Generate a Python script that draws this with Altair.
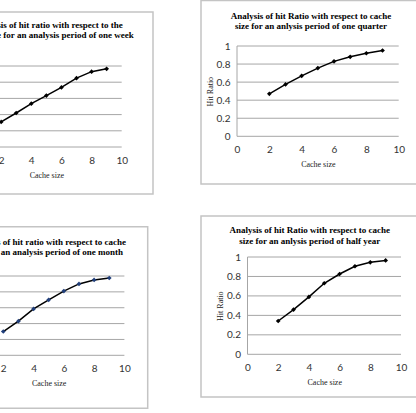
import altair as alt
import pandas as pd

# ---------------- data ----------------
cache_size = [2, 3, 4, 5, 6, 7, 8, 9]
hit_week = [0.31, 0.42, 0.535, 0.635, 0.735, 0.85, 0.93, 0.965]
hit_quarter = [0.47, 0.575, 0.67, 0.755, 0.83, 0.88, 0.92, 0.95]
hit_month = [0.30, 0.43, 0.585, 0.70, 0.81, 0.90, 0.95, 0.975]
hit_half_year = [0.342, 0.46, 0.59, 0.73, 0.825, 0.905, 0.945, 0.965]
x_ticks = [0, 2, 4, 6, 8, 10]
y_ticks = [0, 0.2, 0.4, 0.6, 0.8, 1]

title_week = ["Analysis of hit ratio with respect to the",
              "cache size for an analysis period of one week"]
title_quarter = ["Analysis of hit Ratio with respect to cache",
                 "size for an anlysis period of one quarter"]
title_month = ["Analysis of hit ratio with respect to cache",
               "size for an analysis period of one month"]
title_half_year = ["Analysis of hit Ratio with respect to cache",
                   "size for an anlysis period of half year"]
x_title = "Cache size"
y_title = "Hit Ratio"

# ---------------- layout (pixels) ----------------
W, H = 416, 413
LABEL_FONT = "Lato"
SERIF = "Liberation Serif"

layouts = [
    dict(values=hit_week, title=title_week, marker="black",
         left=-29, right=121.7, top=66, bottom=147,
         frame=(-5, 153, 12, 194), tcx=48.5, ty=(25, 35)),
    dict(values=hit_quarter, title=title_quarter, marker="black",
         left=237, right=398.7, top=46, bottom=136.3,
         frame=(201, 425, 0.5, 184), tcx=311, ty=(15.7, 26)),
    dict(values=hit_month, title=title_month, marker="#203e7a",
         left=-27, right=124.4, top=276, bottom=355.3,
         frame=(-5, 147.7, 226.7, 408.3), tcx=47, ty=(241.7, 251.7)),
    dict(values=hit_half_year, title=title_half_year, marker="black",
         left=247.5, right=401, top=257, bottom=354.3,
         frame=(201, 425, 216, 397), tcx=309.7, ty=(230.3, 240.7)),
]

one = pd.DataFrame({"a": [0]})


def panel(lay):
    df = pd.DataFrame({"size": cache_size, "ratio": lay["values"]})
    grid = pd.DataFrame({"g": y_ticks, "x0": x_ticks[0], "x1": x_ticks[-1]})
    vax = pd.DataFrame({"vx": [x_ticks[0]], "y0": [y_ticks[0]], "y1": [y_ticks[-1]]})

    xs = alt.Scale(domain=[x_ticks[0], x_ticks[-1]], range=[lay["left"], lay["right"]],
                   nice=False, zero=False)
    ys = alt.Scale(domain=[y_ticks[0], y_ticks[-1]], range=[lay["bottom"], lay["top"]],
                   nice=False, zero=False)
    xaxis = alt.Axis(orient="bottom", offset=lay["bottom"] - H, values=x_ticks, format="d",
                     grid=False, domain=False, ticks=False, labelFlush=False, labelOverlap=False,
                     labelPadding=8, labelFont=LABEL_FONT, labelFontSize=10, labelColor="#333333",
                     title=x_title, titleFont=SERIF, titleFontSize=8, titleFontWeight="normal",
                     titleColor="#222222", titlePadding=6)
    yaxis = alt.Axis(orient="left", offset=-lay["left"], values=y_ticks, format=".1~f",
                     grid=False, domain=False, ticks=False, labelFlush=False, labelOverlap=False,
                     labelPadding=7, labelFont=LABEL_FONT, labelFontSize=10, labelColor="#333333",
                     title=y_title, titleFont=SERIF, titleFontSize=8, titleFontWeight="normal",
                     titleColor="#222222", titlePadding=2)

    gridlines = alt.Chart(grid).mark_rule(color="#a6a6a6", strokeWidth=1).encode(
        x=alt.X("x0:Q", scale=xs, axis=xaxis), x2="x1:Q",
        y=alt.Y("g:Q", scale=ys, axis=yaxis))
    vline = alt.Chart(vax).mark_rule(color="#a6a6a6", strokeWidth=1).encode(
        x=alt.X("vx:Q", scale=xs, axis=xaxis),
        y=alt.Y("y0:Q", scale=ys, axis=yaxis), y2="y1:Q")
    line = alt.Chart(df).mark_line(color="black", strokeWidth=1.5).encode(
        x=alt.X("size:Q", scale=xs, axis=xaxis),
        y=alt.Y("ratio:Q", scale=ys, axis=yaxis))
    pts = alt.Chart(df).mark_point(shape="diamond", filled=True, size=22, opacity=1,
                                   color=lay["marker"]).encode(
        x=alt.X("size:Q", scale=xs, axis=xaxis),
        y=alt.Y("ratio:Q", scale=ys, axis=yaxis))
    return alt.layer(gridlines, vline, line, pts)


decor = []
for lay in layouts:
    x0, x1, y0, y1 = lay["frame"]
    decor.append(alt.Chart(one).mark_rect(fillOpacity=0, stroke="#c4c4c4", strokeWidth=1.5).encode(
        x=alt.value(x0), x2=alt.value(x1), y=alt.value(y0), y2=alt.value(y1)))
    for text, ty in zip(lay["title"], lay["ty"]):
        decor.append(alt.Chart(pd.DataFrame({"t": [text]})).mark_text(
            font=SERIF, fontSize=9, fontWeight="bold", align="center", baseline="middle",
            color="black").encode(text="t:N", x=alt.value(lay["tcx"]), y=alt.value(ty)))

panels = [panel(lay) for lay in layouts]

chart = alt.layer(*decor, *panels).resolve_scale(
    x="independent", y="independent"
).properties(
    width=W, height=H, padding=0,
    autosize=alt.AutoSizeParams(type="none"),
    background="white",
).configure_view(stroke=None)

chart.save("out.html", embed_options={"renderer": "svg", "actions": False})
